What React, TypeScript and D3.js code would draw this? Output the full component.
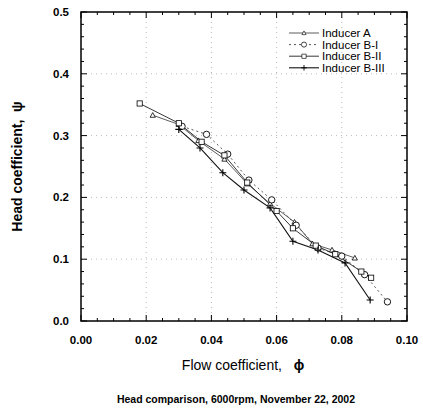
import React from "react";
import * as d3 from "d3";

const xTicks = [0, 0.02, 0.04, 0.06, 0.08, 0.1];
const yTicks = [0, 0.1, 0.2, 0.3, 0.4, 0.5];

const seriesNames = ["Inducer A", "Inducer B-I", "Inducer B-II", "Inducer B-III"];

const phiA = [0.022, 0.030, 0.036, 0.044, 0.051, 0.058, 0.0655, 0.071, 0.077, 0.084];
const psiA = [0.333, 0.318, 0.292, 0.262, 0.222, 0.19, 0.16, 0.125, 0.115, 0.102];

const phiB1 = [0.031, 0.0385, 0.045, 0.0515, 0.0585, 0.066, 0.0727, 0.080, 0.087, 0.094];
const psiB1 = [0.315, 0.302, 0.27, 0.228, 0.196, 0.155, 0.118, 0.105, 0.075, 0.031];

const phiB2 = [0.018, 0.030, 0.037, 0.044, 0.051, 0.060, 0.065, 0.072, 0.078, 0.086, 0.089];
const psiB2 = [0.352, 0.32, 0.29, 0.268, 0.224, 0.178, 0.15, 0.122, 0.108, 0.08, 0.07];

const phiB3 = [0.030, 0.0365, 0.0435, 0.050, 0.058, 0.065, 0.0727, 0.081, 0.0887];
const psiB3 = [0.31, 0.28, 0.24, 0.212, 0.183, 0.129, 0.115, 0.094, 0.034];

const W = 423, H = 413;
const L = 81, R = 407, T = 12, B = 321;

const x = d3.scaleLinear().domain([0, 0.1]).range([L, R]);
const y = d3.scaleLinear().domain([0, 0.5]).range([B, T]);

type Pt = [number, number];
const zip = (a: number[], b: number[]): Pt[] => a.map((v, i) => [v, b[i]]);

const data: Pt[][] = [zip(phiA, psiA), zip(phiB1, psiB1), zip(phiB2, psiB2), zip(phiB3, psiB3)];
const dashes = ["", "2,3", "", ""];
const widths = [0.8, 0.9, 0.9, 1.1];
const colors = ["#333", "#444", "#222", "#111"];

function Marker({ kind, cx, cy }: { kind: number; cx: number; cy: number }) {
  const s = 2.6;
  if (kind === 0)
    return <path d={`M${cx - s},${cy + s * 0.8}L${cx},${cy - s}L${cx + s},${cy + s * 0.8}Z`} fill="white" stroke="#000" strokeWidth={0.8} />;
  if (kind === 1) return <circle cx={cx} cy={cy} r={3.2} fill="white" stroke="#000" strokeWidth={0.9} />;
  if (kind === 2)
    return <rect x={cx - s} y={cy - s} width={2 * s} height={2 * s} fill="white" stroke="#000" strokeWidth={0.8} />;
  return (
    <path d={`M${cx - 3.5},${cy}H${cx + 3.5}M${cx},${cy - 3.5}V${cy + 3.5}`} stroke="#000" strokeWidth={1.1} />
  );
}

export default function App() {
  const line = d3
    .line<Pt>()
    .x((d) => x(d[0]))
    .y((d) => y(d[1]));
  const xMinor = d3.range(0, 0.1001, 0.005);
  const yMinor = d3.range(0, 0.5001, 0.02);
  const font = "Liberation Sans, Arial, sans-serif";
  return (
    <svg width={W} height={H} style={{ position: "absolute", left: 0, top: 0, background: "white" }} fontFamily={font}>
      <rect width={W} height={H} fill="white" />
      {/* grid */}
      {[0.02, 0.04, 0.06, 0.08].map((v) => (
        <line key={"gx" + v} x1={x(v)} x2={x(v)} y1={T} y2={B} stroke="#aaa" strokeWidth={0.8} strokeDasharray="1,4" />
      ))}
      {[0.1, 0.2, 0.3, 0.4].map((v) => (
        <line key={"gy" + v} x1={L} x2={R} y1={y(v)} y2={y(v)} stroke="#aaa" strokeWidth={0.8} strokeDasharray="1,4" />
      ))}
      {/* minor ticks */}
      {xMinor.map((v, i) => {
        const len = i % 4 === 0 ? 6 : 3;
        return (
          <g key={"xm" + i}>
            <line x1={x(v)} x2={x(v)} y1={B} y2={B - len} stroke="#000" strokeWidth={1} />
            <line x1={x(v)} x2={x(v)} y1={T} y2={T + len} stroke="#000" strokeWidth={1} />
          </g>
        );
      })}
      {yMinor.map((v, i) => {
        const len = i % 5 === 0 ? 6 : 3;
        return (
          <g key={"ym" + i}>
            <line x1={L} x2={L + len} y1={y(v)} y2={y(v)} stroke="#000" strokeWidth={1} />
            <line x1={R} x2={R - len} y1={y(v)} y2={y(v)} stroke="#000" strokeWidth={1} />
          </g>
        );
      })}
      {/* series */}
      {data.map((pts, k) => (
        <path key={"s" + k} d={line(pts) || ""} fill="none" stroke={colors[k]} strokeWidth={widths[k]} strokeDasharray={dashes[k]} />
      ))}
      {data.map((pts, k) =>
        pts.map((p, i) => <Marker key={`m${k}-${i}`} kind={k} cx={x(p[0])} cy={y(p[1])} />)
      )}
      {/* frame */}
      <rect x={L} y={T} width={R - L} height={B - T} fill="none" stroke="#000" strokeWidth={1.5} />
      {/* tick labels */}
      {xTicks.map((v) => (
        <text key={"xt" + v} x={x(v)} y={B + 23} textAnchor="middle" fontSize={11.5} fontWeight="bold">
          {v.toFixed(2)}
        </text>
      ))}
      {yTicks.map((v) => (
        <text key={"yt" + v} x={L - 12} y={y(v) + 4} textAnchor="end" fontSize={11.5} fontWeight="bold">
          {v.toFixed(1)}
        </text>
      ))}
      {/* axis titles */}
      <text x={243} y={370} textAnchor="middle" fontSize={14}>
        Flow coefficient,{"\u00a0\u00a0\u00a0"}
        <tspan fontWeight="bold">ϕ</tspan>
      </text>
      <text transform={`translate(22,${(T + B) / 2}) rotate(-90)`} textAnchor="middle" fontSize={14} fontWeight="bold">
        Head coefficient,{"\u00a0\u00a0"}ψ
      </text>
      <text x={236} y={403} textAnchor="middle" fontSize={10.5} fontWeight="bold">
        Head comparison, 6000rpm, November 22, 2002
      </text>
      {/* legend */}
      {seriesNames.map((n, k) => {
        const ly = 33 + k * 11.6;
        return (
          <g key={"lg" + k}>
            <line x1={289} x2={319} y1={ly} y2={ly} stroke={colors[k]} strokeWidth={widths[k]} strokeDasharray={dashes[k]} />
            <g transform={`translate(${304},${ly}) scale(0.8) translate(${-304},${-ly})`}>
              <Marker kind={k} cx={304} cy={ly} />
            </g>
            <text x={322} y={ly + 4} fontSize={11.5}>
              {n}
            </text>
          </g>
        );
      })}
    </svg>
  );
}
